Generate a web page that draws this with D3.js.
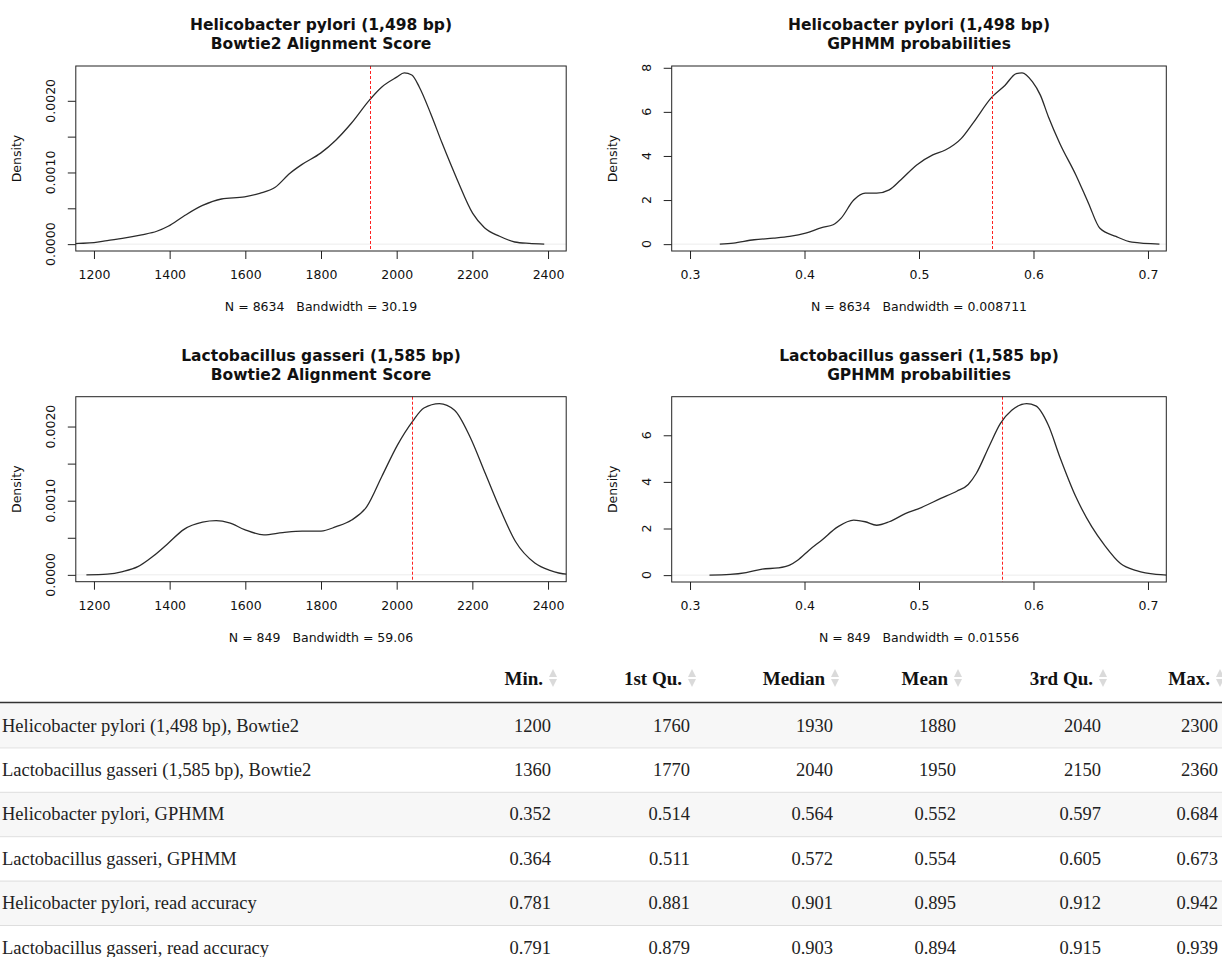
<!DOCTYPE html>
<html>
<head>
<meta charset="utf-8">
<script src="https://cdn.jsdelivr.net/npm/d3@7/dist/d3.min.js"></script>
<style>
  body { margin: 0; background: #fff; }
  .plots text { font-family: "DejaVu Sans", sans-serif; fill: #111; }
  .tbl text { font-family: "Liberation Serif", "Times New Roman", serif; }
</style>
</head>
<body>
<svg id="chart" width="1222" height="957"></svg>
<script>
// density curves as [score, density]
const hpBowtie = [[1110,0],[1160,0.00001],[1200,0.00002],[1235,0.00005],[1275,0.00008],[1326,0.00013],
  [1366,0.00018],[1396,0.00025],[1437,0.00039],[1487,0.00054],[1537,0.00063],[1598,0.00066],[1638,0.00071],
  [1678,0.00079],[1718,0.00099],[1749,0.00111],[1799,0.00127],[1839,0.00145],[1879,0.00168],[1928,0.00201],
  [1960,0.00219],[2000,0.00233],[2020,0.00239],[2040,0.00236],[2060,0.00219],[2090,0.00182],[2120,0.00141],
  [2160,0.00090],[2201,0.00043],[2232,0.00023],[2272,0.00011],[2312,0.00003],[2350,0.00001],[2390,0]];
const hpGphmm = [[0.326,0],[0.338,0.05],[0.356,0.2],[0.373,0.27],[0.387,0.35],[0.401,0.5],[0.415,0.75],
  [0.425,0.88],[0.432,1.18],[0.443,2.0],[0.453,2.31],[0.463,2.31],[0.474,2.46],[0.484,2.91],[0.498,3.59],
  [0.512,4.05],[0.523,4.27],[0.537,4.8],[0.547,5.48],[0.564,6.69],[0.575,7.2],[0.585,7.74],[0.590,7.77],
  [0.599,7.37],[0.606,6.76],[0.613,5.78],[0.623,4.57],[0.637,3.14],[0.648,1.86],[0.658,0.72],[0.672,0.35],
  [0.686,0.09],[0.710,0]];
const lgBowtie = [[1180,0],[1235,0.00001],[1276,0.000045],[1316,0.00011],[1356,0.00025],[1397,0.00043],
  [1437,0.00061],[1487,0.00071],[1523,0.00073],[1558,0.00070],[1598,0.00061],[1649,0.00054],[1699,0.00057],
  [1750,0.00059],[1800,0.00059],[1840,0.00065],[1881,0.00074],[1921,0.00092],[1961,0.00133],[2002,0.00175],
  [2042,0.00207],[2072,0.00225],[2113,0.00231],[2153,0.00222],[2193,0.00187],[2234,0.00137],[2274,0.00088],
  [2314,0.00045],[2365,0.00016],[2405,0.00006],[2449,0.00001],[2540,0]];
const lgGphmm = [[0.317,0],[0.335,0.03],[0.349,0.11],[0.363,0.26],[0.377,0.31],[0.387,0.43],[0.394,0.64],
  [0.404,1.07],[0.415,1.5],[0.429,2.07],[0.443,2.36],[0.453,2.29],[0.463,2.14],[0.474,2.29],[0.488,2.64],
  [0.502,2.9],[0.519,3.29],[0.533,3.6],[0.543,3.89],[0.550,4.36],[0.561,5.5],[0.571,6.5],[0.581,7.07],
  [0.594,7.36],[0.602,7.26],[0.613,6.43],[0.623,5.07],[0.637,3.36],[0.651,2.07],[0.662,1.29],[0.676,0.5],
  [0.690,0.19],[0.707,0.03],[0.720,0]];

const medians = [1930, 0.564, 2040, 0.572];
const bowtieTicks = [1200, 1400, 1600, 1800, 2000, 2200, 2400];
const gphmmTicks = [0.3, 0.4, 0.5, 0.6, 0.7];
const bowtieDensTicks = [0, 0.0005, 0.001, 0.0015, 0.002];
const gphmmDensTicks = [0, 2, 4, 6, 8];

// table
const colNames = ["Min.", "1st Qu.", "Median", "Mean", "3rd Qu.", "Max."];
const rowNames = [
  "Helicobacter pylori (1,498 bp), Bowtie2",
  "Lactobacillus gasseri (1,585 bp), Bowtie2",
  "Helicobacter pylori, GPHMM",
  "Lactobacillus gasseri, GPHMM",
  "Helicobacter pylori, read accuracy",
  "Lactobacillus gasseri, read accuracy"
];
const statValues = [
  ["1200", "1760", "1930", "1880", "2040", "2300"],
  ["1360", "1770", "2040", "1950", "2150", "2360"],
  ["0.352", "0.514", "0.564", "0.552", "0.597", "0.684"],
  ["0.364", "0.511", "0.572", "0.554", "0.605", "0.673"],
  ["0.781", "0.881", "0.901", "0.895", "0.912", "0.942"],
  ["0.791", "0.879", "0.903", "0.894", "0.915", "0.939"]
];

const svg = d3.select("#chart");
const plots = svg.append("g").attr("class", "plots");

const panels = [
  { data: hpBowtie, title: ["Helicobacter pylori (1,498 bp)", "Bowtie2 Alignment Score"], sub: "N = 8634   Bandwidth = 30.19",
    xlim: [1200, 2400], xt: bowtieTicks, yt: bowtieDensTicks, fx: d3.format("d"), fy: d3.format(".4f"), med: medians[0],
    box: { l: 75.8, r: 566.2, t: 66, b: 251 } },
  { data: hpGphmm, title: ["Helicobacter pylori (1,498 bp)", "GPHMM probabilities"], sub: "N = 8634   Bandwidth = 0.008711",
    xlim: [0.3, 0.7], xt: gphmmTicks, yt: gphmmDensTicks, fx: d3.format(".1f"), fy: d3.format("d"), med: medians[1],
    box: { l: 671.7, r: 1166.3, t: 66, b: 251 } },
  { data: lgBowtie, title: ["Lactobacillus gasseri (1,585 bp)", "Bowtie2 Alignment Score"], sub: "N = 849   Bandwidth = 59.06",
    xlim: [1200, 2400], xt: bowtieTicks, yt: bowtieDensTicks, fx: d3.format("d"), fy: d3.format(".4f"), med: medians[2],
    box: { l: 75.8, r: 566.2, t: 396.7, b: 581.7 } },
  { data: lgGphmm, title: ["Lactobacillus gasseri (1,585 bp)", "GPHMM probabilities"], sub: "N = 849   Bandwidth = 0.01556",
    xlim: [0.3, 0.7], xt: gphmmTicks, yt: gphmmDensTicks.slice(0, 4), fx: d3.format(".1f"), fy: d3.format("d"), med: medians[3],
    box: { l: 671.7, r: 1166.3, t: 396.7, b: 582 } }
];

panels.forEach((p, i) => {
  const b = p.box;
  const span = p.xlim[1] - p.xlim[0];
  const x = d3.scaleLinear().domain([p.xlim[0] - 0.04 * span, p.xlim[1] + 0.04 * span]).range([b.l, b.r]);
  const ymax = d3.max(p.data, d => d[1]);
  const y = d3.scaleLinear().domain([-0.04 * ymax, 1.04 * ymax]).range([b.b, b.t]);

  const g = plots.append("g");
  g.append("clipPath").attr("id", "clip" + i)
    .append("rect").attr("x", b.l).attr("y", b.t).attr("width", b.r - b.l).attr("height", b.b - b.t);

  // zero line
  g.append("line")
    .attr("x1", b.l).attr("x2", b.r).attr("y1", y(0)).attr("y2", y(0))
    .attr("stroke", "#ececec").attr("stroke-width", 1);

  g.append("path")
    .datum(p.data)
    .attr("clip-path", `url(#clip${i})`)
    .attr("fill", "none")
    .attr("stroke", "#2b2b2b")
    .attr("stroke-width", 1.3)
    .attr("stroke-linejoin", "round")
    .attr("d", d3.line().x(d => x(d[0])).y(d => y(d[1])).curve(d3.curveMonotoneX));

  // median; snapped to an even pixel column so the thin red dashes keep their colour
  const mx = 2 * Math.round(x(p.med) / 2) + 0.5;
  g.append("line")
    .attr("x1", mx).attr("x2", mx).attr("y1", b.t).attr("y2", b.b)
    .attr("stroke", "#ff2020").attr("stroke-width", 1).attr("stroke-dasharray", "3,2");

  g.append("rect")
    .attr("x", b.l).attr("y", b.t).attr("width", b.r - b.l).attr("height", b.b - b.t)
    .attr("fill", "none").attr("stroke", "#222").attr("stroke-width", 1);

  // x axis
  g.append("g")
    .attr("transform", `translate(0,${b.b})`)
    .call(d3.axisBottom(x).tickValues(p.xt).tickFormat(p.fx).tickSize(8).tickSizeOuter(0))
    .call(a => a.select(".domain").remove())
    .call(a => a.selectAll("line").attr("stroke", "#222"))
    .call(a => a.selectAll("text").attr("y", 19).attr("font-size", 12.5).attr("font-family", "DejaVu Sans").attr("fill", "#111"));

  // y axis, labels rotated as R does
  g.append("g")
    .attr("transform", `translate(${b.l},0)`)
    .call(d3.axisLeft(y).tickValues(p.yt).tickFormat("").tickSize(8).tickSizeOuter(0))
    .call(a => a.select(".domain").remove())
    .call(a => a.selectAll("line").attr("stroke", "#222"));
  const labelled = i % 2 === 0 ? p.yt.filter((v, k) => k % 2 === 0) : p.yt;
  g.selectAll(null).data(labelled).join("text")
    .attr("transform", d => `translate(${b.l - 25},${y(d)}) rotate(-90)`)
    .attr("text-anchor", "middle")
    .attr("dy", "0.35em")
    .attr("font-size", 12.5)
    .text(p.fy);

  g.append("text")
    .attr("transform", `translate(${b.l - 59},${(b.t + b.b) / 2}) rotate(-90)`)
    .attr("text-anchor", "middle").attr("dy", "0.35em")
    .attr("font-size", 12.5)
    .text("Density");

  p.title.forEach((t, k) => {
    g.append("text")
      .attr("x", (b.l + b.r) / 2).attr("y", b.t - 41 + k * 18.5)
      .attr("text-anchor", "middle").attr("dy", "0.35em")
      .attr("font-size", 15.5).attr("font-weight", "bold")
      .text(t);
  });

  g.append("text")
    .attr("x", (b.l + b.r) / 2).attr("y", b.b + 56)
    .attr("text-anchor", "middle").attr("dy", "0.35em")
    .attr("font-size", 12.5)
    .style("white-space", "pre")
    .text(p.sub);
});

// ---- summary table ----
const tbl = svg.append("g").attr("class", "tbl");
const numRight = [551, 690, 833, 956, 1101, 1218];
const headY = 678, lineY = 702.5, rowH = 44.4;

const rowY = d3.scaleBand().domain(d3.range(rowNames.length)).range([703, 703 + rowH * rowNames.length]);

tbl.selectAll("rect.stripe").data(rowNames).join("rect")
  .attr("class", "stripe")
  .attr("x", 0).attr("width", 1222)
  .attr("y", (d, i) => rowY(i)).attr("height", rowY.bandwidth())
  .attr("fill", (d, i) => i % 2 === 0 ? "#f7f7f7" : "#fff");

tbl.selectAll("line.sep").data(rowNames.slice(1)).join("line")
  .attr("class", "sep")
  .attr("x1", 0).attr("x2", 1222)
  .attr("y1", (d, i) => rowY(i + 1) + 0.5).attr("y2", (d, i) => rowY(i + 1) + 0.5)
  .attr("stroke", "#dedede");

tbl.append("line").attr("x1", 0).attr("x2", 1222).attr("y1", lineY).attr("y2", lineY)
  .attr("stroke", "#333").attr("stroke-width", 1.3);

colNames.forEach((c, j) => {
  tbl.append("text")
    .attr("x", numRight[j] - 8).attr("y", headY).attr("dy", "0.35em")
    .attr("text-anchor", "end").attr("font-size", 19).attr("font-weight", "bold").attr("fill", "#111")
    .text(c);
  const cx = numRight[j] + 2;
  tbl.append("path").attr("d", `M${cx - 4},${headY - 1} L${cx},${headY - 9} L${cx + 4},${headY - 1} Z`).attr("fill", "#dadada");
  tbl.append("path").attr("d", `M${cx - 4},${headY + 1} L${cx},${headY + 9} L${cx + 4},${headY + 1} Z`).attr("fill", "#dadada");
});

rowNames.forEach((r, i) => {
  const cy = rowY(i) + rowY.bandwidth() / 2;
  tbl.append("text").attr("x", 2).attr("y", cy).attr("dy", "0.35em")
    .attr("font-size", 18.5).attr("fill", "#222").text(r);
  statValues[i].forEach((v, j) => {
    tbl.append("text").attr("x", numRight[j]).attr("y", cy).attr("dy", "0.35em")
      .attr("text-anchor", "end").attr("font-size", 18.5).attr("fill", "#222").text(v);
  });
});
</script>
</body>
</html>
